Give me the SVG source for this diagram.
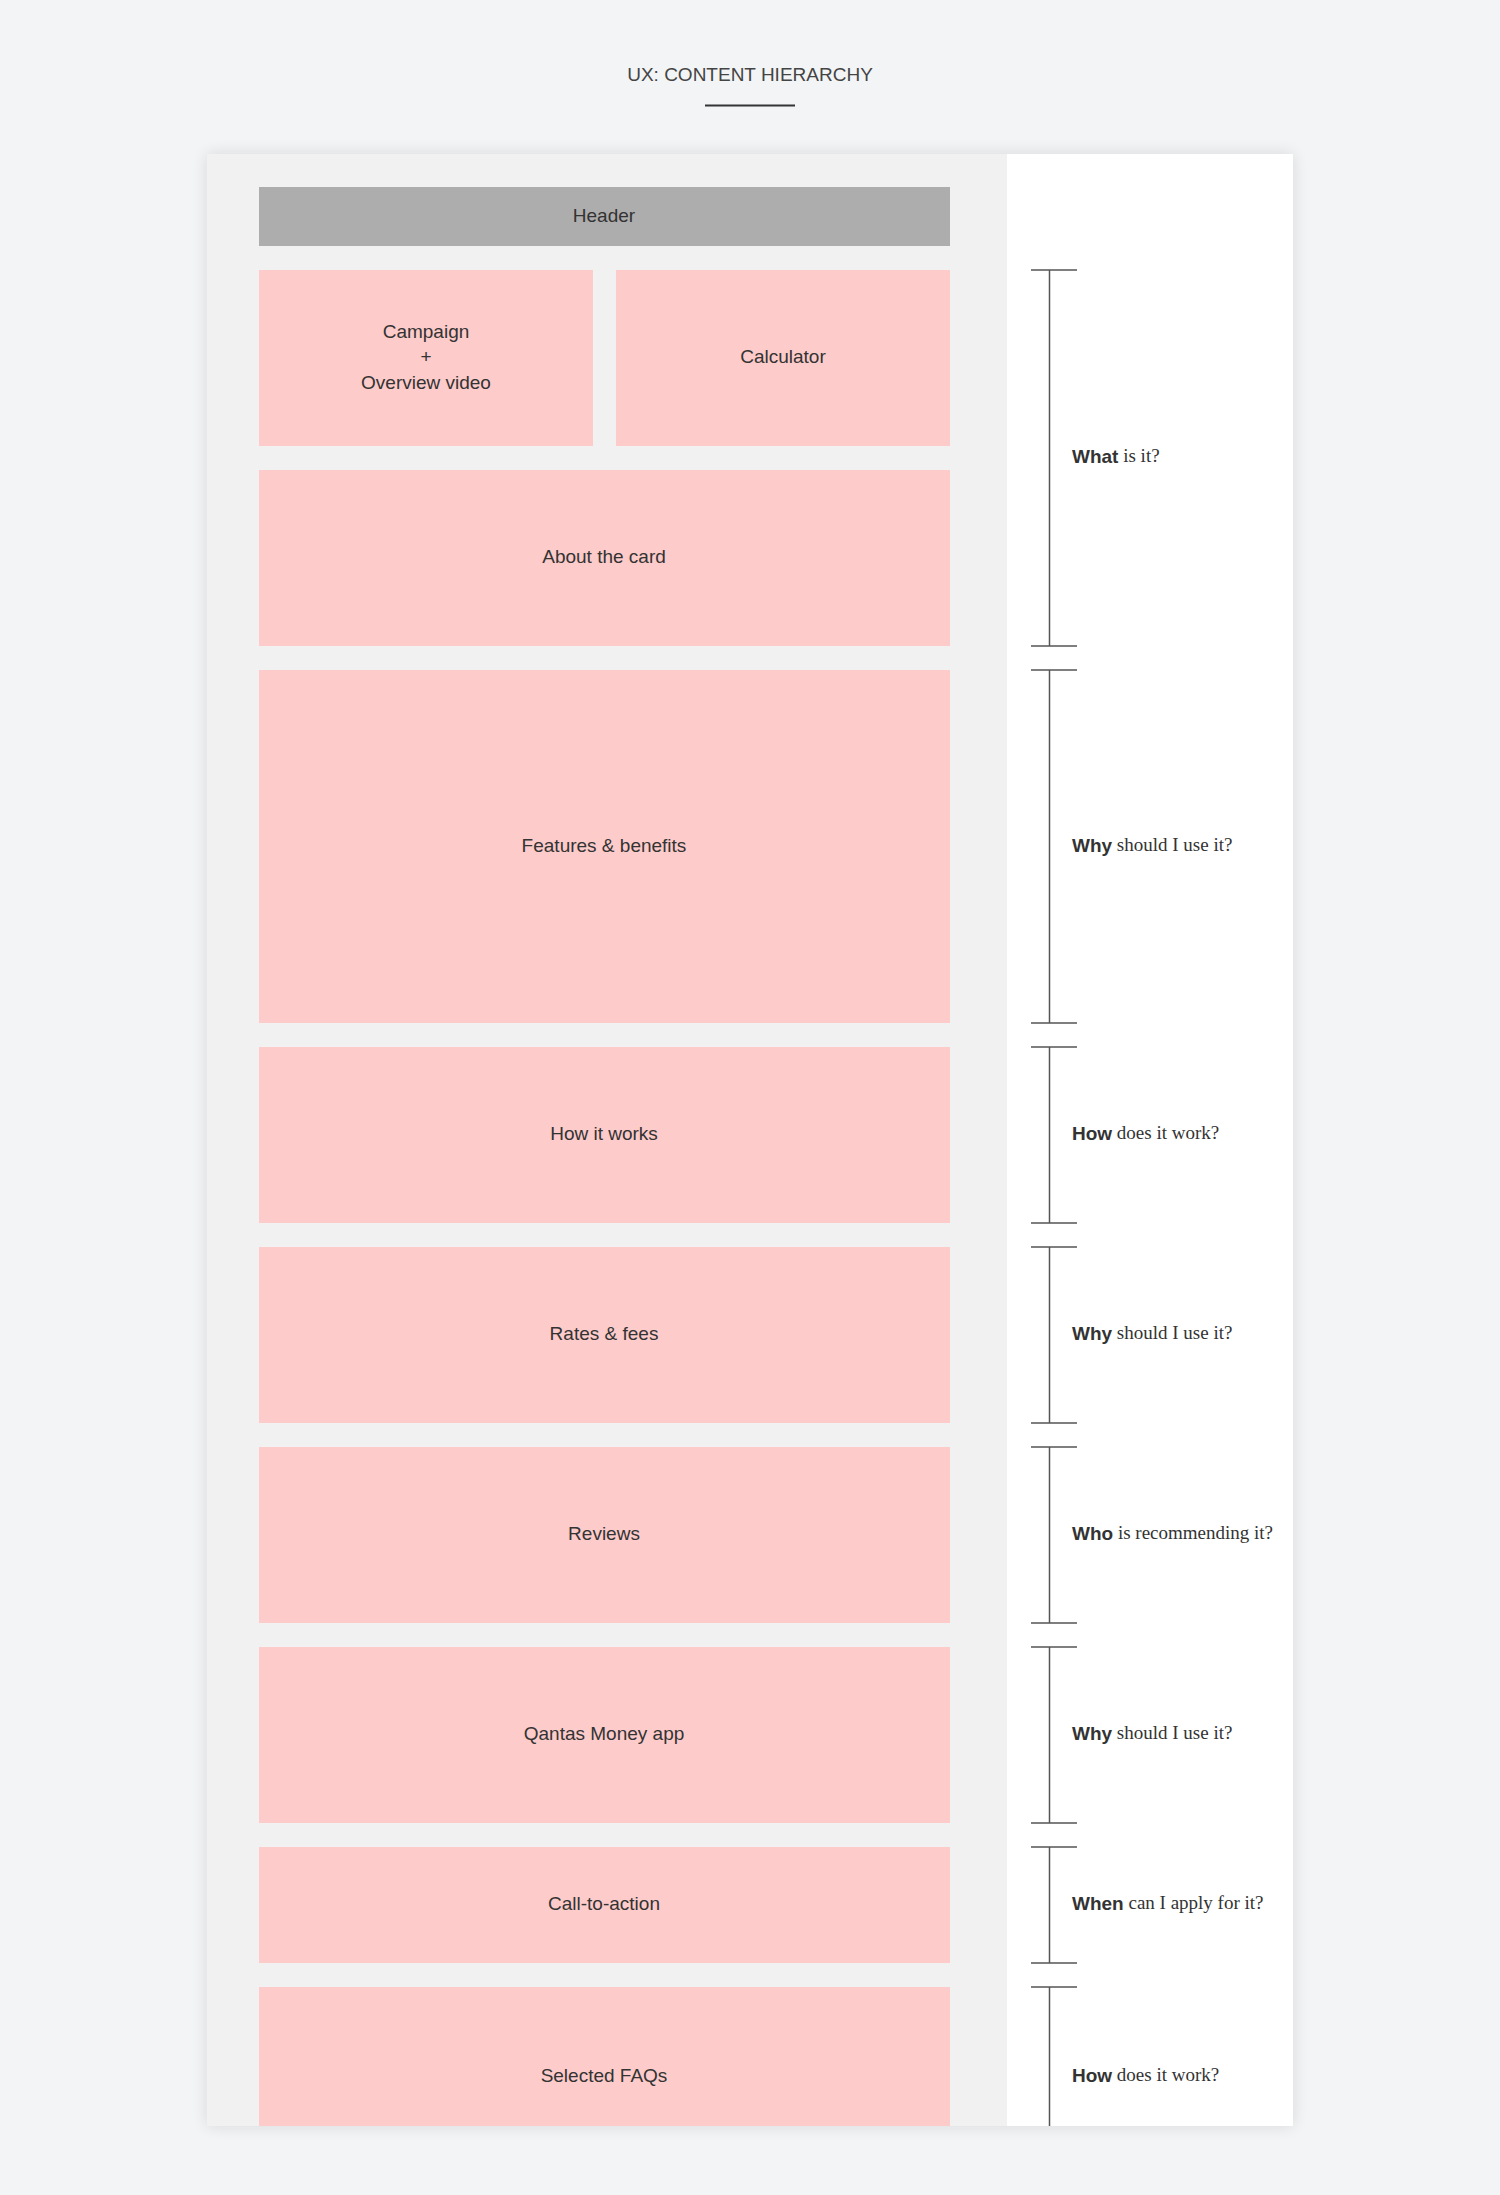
<svg xmlns="http://www.w3.org/2000/svg" width="1500" height="2195" viewBox="0 0 1500 2195">
<style>
.box{fill:#fdcbca}
.lbl{font-family:"Liberation Sans",Arial,sans-serif;font-size:19px;fill:#333;text-anchor:middle;dominant-baseline:middle}
.q{font-family:"Liberation Serif","Times New Roman",serif;font-size:19px;fill:#333;dominant-baseline:middle}
.qb{font-family:"Liberation Sans",Arial,sans-serif;font-weight:bold}
.br{stroke:#555;stroke-width:1.5;fill:none}
</style>
<defs>
<filter id="sh" x="-5%" y="-5%" width="110%" height="110%"><feGaussianBlur in="SourceAlpha" stdDeviation="8"/><feComponentTransfer><feFuncA type="linear" slope="0.12"/></feComponentTransfer><feMerge><feMergeNode/><feMergeNode in="SourceGraphic"/></feMerge></filter>
</defs>
<rect width="1500" height="2195" fill="#f3f4f6"/>
<text x="750" y="76" class="lbl" style="font-size:19px;fill:#444">UX: CONTENT HIERARCHY</text>
<line x1="705" y1="105.5" x2="795" y2="105.5" stroke="#333" stroke-width="2"/>
<g filter="url(#sh)">
<rect x="207" y="154" width="800" height="1972" fill="#f1f1f1"/>
<rect x="1007" y="154" width="286" height="1972" fill="#fff"/>
</g>
<g id="header"><rect x="259" y="187" width="691" height="59" fill="#adadad"/><text x="604" y="217" class="lbl">Header</text></g>
<g id="campaign"><rect class="box" x="259" y="270" width="334" height="176"/><text class="lbl" x="426" y="333">Campaign</text><text class="lbl" x="426" y="358">+</text><text class="lbl" x="426" y="384">Overview video</text></g>
<g id="calculator"><rect class="box" x="616" y="270" width="334" height="176"/><text class="lbl" x="783" y="358">Calculator</text></g>
<g id="about"><rect class="box" x="259" y="470" width="691" height="176"/><text class="lbl" x="604" y="558">About the card</text></g>
<g id="features"><rect class="box" x="259" y="670" width="691" height="353"/><text class="lbl" x="604" y="847">Features &amp; benefits</text></g>
<g id="how"><rect class="box" x="259" y="1047" width="691" height="176"/><text class="lbl" x="604" y="1135">How it works</text></g>
<g id="rates"><rect class="box" x="259" y="1247" width="691" height="176"/><text class="lbl" x="604" y="1335">Rates &amp; fees</text></g>
<g id="reviews"><rect class="box" x="259" y="1447" width="691" height="176"/><text class="lbl" x="604" y="1535">Reviews</text></g>
<g id="app"><rect class="box" x="259" y="1647" width="691" height="176"/><text class="lbl" x="604" y="1735">Qantas Money app</text></g>
<g id="cta"><rect class="box" x="259" y="1847" width="691" height="116"/><text class="lbl" x="604" y="1905">Call-to-action</text></g>
<g id="faqs"><rect class="box" x="259" y="1987" width="691" height="139"/><text class="lbl" x="604" y="2077">Selected FAQs</text></g>
<g id="connectors">
<path class="br" d="M1031 270H1077M1049.5 270V646M1031 646H1077"/>
<path class="br" d="M1031 670H1077M1049.5 670V1023M1031 1023H1077"/>
<path class="br" d="M1031 1047H1077M1049.5 1047V1223M1031 1223H1077"/>
<path class="br" d="M1031 1247H1077M1049.5 1247V1423M1031 1423H1077"/>
<path class="br" d="M1031 1447H1077M1049.5 1447V1623M1031 1623H1077"/>
<path class="br" d="M1031 1647H1077M1049.5 1647V1823M1031 1823H1077"/>
<path class="br" d="M1031 1847H1077M1049.5 1847V1963M1031 1963H1077"/>
<path class="br" d="M1031 1987H1077M1049.5 1987V2126"/>
</g>
<g id="questions">
<text class="q" x="1072" y="458"><tspan class="qb">What</tspan> is it?</text>
<text class="q" x="1072" y="847"><tspan class="qb">Why</tspan> should I use it?</text>
<text class="q" x="1072" y="1135"><tspan class="qb">How</tspan> does it work?</text>
<text class="q" x="1072" y="1335"><tspan class="qb">Why</tspan> should I use it?</text>
<text class="q" x="1072" y="1535"><tspan class="qb">Who</tspan> is recommending it?</text>
<text class="q" x="1072" y="1735"><tspan class="qb">Why</tspan> should I use it?</text>
<text class="q" x="1072" y="1905"><tspan class="qb">When</tspan> can I apply for it?</text>
<text class="q" x="1072" y="2077"><tspan class="qb">How</tspan> does it work?</text>
</g>
</svg>
